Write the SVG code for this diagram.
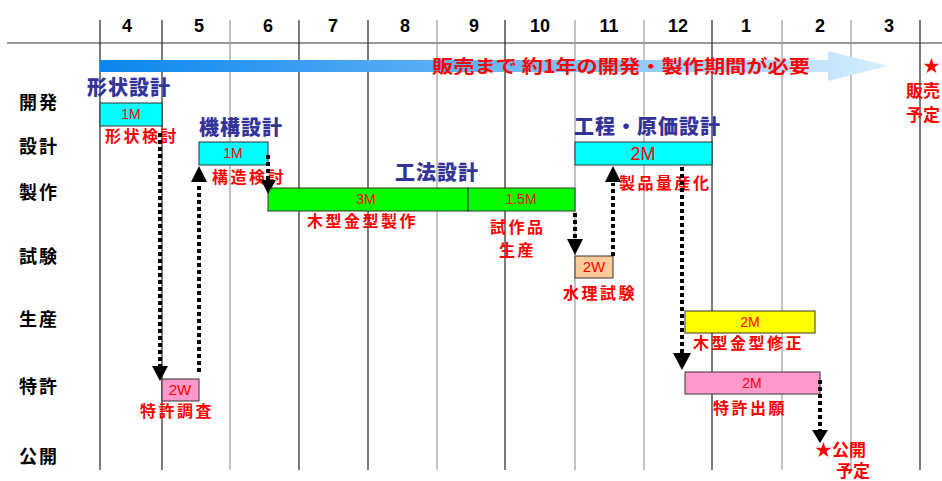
<svg xmlns="http://www.w3.org/2000/svg" width="942" height="481" viewBox="0 0 942 481">
<style>
.hdr{font-family:"Liberation Sans",Arial,sans-serif;font-weight:bold;font-size:18px;fill:#000;text-anchor:middle}
.row{font-family:"Noto Sans CJK JP","Liberation Sans",sans-serif;font-weight:bold;font-size:18px;letter-spacing:2px;fill:#000}
.ttl{font-family:"Noto Sans CJK JP","Liberation Sans",sans-serif;font-weight:900;font-size:20px;letter-spacing:1px;fill:#333399}
.lbl{font-family:"Noto Sans CJK JP","Liberation Sans",sans-serif;font-weight:bold;font-size:16px;letter-spacing:2.5px;fill:#ff0000}
.big{font-family:"Noto Sans CJK JP","Liberation Sans",sans-serif;font-weight:bold;font-size:18px;fill:#ff0000}
.sm{font-family:"Noto Sans CJK JP","Liberation Sans",sans-serif;font-weight:bold;font-size:17px;fill:#ff0000}
.bx{stroke:#333;stroke-width:1}
.bt{font-family:"Liberation Sans",Arial,sans-serif;font-size:14px;fill:#ff0000;text-anchor:middle}
.gd{stroke:#222;stroke-width:1.2}
.gl{stroke:#999;stroke-width:1.2}
.dot{stroke:#000;stroke-width:4;stroke-dasharray:4 3;fill:none}
.ah{fill:#000}
</style>
<defs>
<linearGradient id="bl" gradientUnits="userSpaceOnUse" x1="100" y1="0" x2="888" y2="0">
<stop offset="0" stop-color="#0a86ee"/>
<stop offset="0.45" stop-color="#5fb0f5"/>
<stop offset="1" stop-color="#d6eefd"/>
</linearGradient>
</defs>
<rect width="942" height="481" fill="#fff"/>
<g id="grid">
<line x1="7" y1="43" x2="942" y2="43" stroke="#333" stroke-width="1.2"/>
<line class="gd" x1="100" y1="20" x2="100" y2="470"/>
<line class="gd" x1="162" y1="20" x2="162" y2="470"/>
<line class="gl" x1="230" y1="20" x2="230" y2="470"/>
<line class="gd" x1="299" y1="20" x2="299" y2="470"/>
<line class="gd" x1="368" y1="20" x2="368" y2="470"/>
<line class="gl" x1="437" y1="20" x2="437" y2="470"/>
<line class="gd" x1="505" y1="20" x2="505" y2="470"/>
<line class="gl" x1="575" y1="20" x2="575" y2="470"/>
<line class="gl" x1="644" y1="20" x2="644" y2="470"/>
<line class="gd" x1="712" y1="20" x2="712" y2="470"/>
<line class="gl" x1="782" y1="20" x2="782" y2="470"/>
<line class="gl" x1="851" y1="20" x2="851" y2="470"/>
<line class="gd" x1="920" y1="20" x2="920" y2="470"/>
</g>
<g id="header">
<text class="hdr" x="127" y="32">4</text>
<text class="hdr" x="199" y="32">5</text>
<text class="hdr" x="268" y="32">6</text>
<text class="hdr" x="333" y="32">7</text>
<text class="hdr" x="405" y="32">8</text>
<text class="hdr" x="474" y="32">9</text>
<text class="hdr" x="540" y="32">10</text>
<text class="hdr" x="609" y="32">11</text>
<text class="hdr" x="678" y="32">12</text>
<text class="hdr" x="746" y="32">1</text>
<text class="hdr" x="820" y="32">2</text>
<text class="hdr" x="889" y="32">3</text>
</g>
<g id="rows">
<text class="row" x="19" y="109">開発</text>
<text class="row" x="19" y="153">設計</text>
<text class="row" x="19" y="199">製作</text>
<text class="row" x="19" y="263">試験</text>
<text class="row" x="19" y="326">生産</text>
<text class="row" x="19" y="393">特許</text>
<text class="row" x="19" y="463">公開</text>
</g>
<g id="banner">
<path d="M100,60 H828 V51 L888,66 L828,81 V72 H100 Z" fill="url(#bl)"/>
<text class="big" x="432" y="73" textLength="378" lengthAdjust="spacingAndGlyphs">販売まで  約1年の開発・製作期間が必要</text>
</g>
<g id="release">
<text class="sm" x="940" y="72" text-anchor="end">★</text>
<text class="sm" x="940" y="97" text-anchor="end">販売</text>
<text class="sm" x="940" y="121" text-anchor="end">予定</text>
</g>
<g id="n-keijou">
<text class="ttl" x="87" y="95">形状設計</text>
<rect class="bx" x="100" y="103" width="62" height="23" fill="#00ffff"/>
<text class="bt" x="131" y="119">1M</text>
<text class="lbl" x="105" y="142">形状検討</text>
</g>
<g id="n-kikou">
<text class="ttl" x="199" y="135">機構設計</text>
<rect class="bx" x="199" y="142" width="69" height="23" fill="#00ffff"/>
<text class="bt" x="233" y="158">1M</text>
<text class="lbl" x="212" y="183">構造検討</text>
</g>
<g id="n-kouhou">
<text class="ttl" x="395" y="180">工法設計</text>
<rect class="bx" x="268" y="188" width="200" height="23" fill="#00ff00"/>
<rect class="bx" x="468" y="188" width="107" height="23" fill="#00ff00"/>
<text class="bt" x="366" y="204">3M</text>
<text class="bt" x="521" y="204">1.5M</text>
<text class="lbl" x="307" y="227">木型金型製作</text>
<text class="lbl" x="490" y="233">試作品</text>
<text class="lbl" x="499" y="256">生産</text>
</g>
<g id="n-koutei">
<text class="ttl" x="574" y="134">工程・原価設計</text>
<rect class="bx" x="575" y="142" width="137" height="23" fill="#00ffff"/>
<text class="bt" x="643" y="160" style="font-size:18px">2M</text>
<text class="lbl" x="619" y="189">製品量産化</text>
</g>
<g id="n-suiri">
<rect class="bx" x="575" y="256" width="38" height="22" fill="#ffcc99"/>
<text class="bt" x="594" y="272" style="font-size:15px">2W</text>
<text class="lbl" x="563" y="299">水理試験</text>
</g>
<g id="n-shusei">
<rect class="bx" x="685" y="311" width="130" height="22" fill="#ffff00"/>
<text class="bt" x="750" y="327">2M</text>
<text class="lbl" x="693" y="349">木型金型修正</text>
</g>
<g id="n-shutsugan">
<rect class="bx" x="685" y="372" width="135" height="22" fill="#ff99cc"/>
<text class="bt" x="752" y="388">2M</text>
<text class="lbl" x="713" y="414">特許出願</text>
</g>
<g id="n-chousa">
<rect class="bx" x="162" y="379" width="37" height="22" fill="#ff99cc"/>
<text class="bt" x="180" y="395" style="font-size:15px">2W</text>
<text class="lbl" x="140" y="417">特許調査</text>
</g>
<g id="n-koukai">
<text class="sm" x="815" y="456">★公開</text>
<text class="sm" x="836" y="477">予定</text>
</g>
<g id="connectors">
<line class="dot" x1="160" y1="133" x2="160" y2="366"/>
<polygon class="ah" points="152,366 168,366 160,381"/>
<line class="dot" x1="199" y1="372" x2="199" y2="183"/>
<polygon class="ah" points="191,182 207,182 199,166"/>
<line class="dot" x1="268" y1="155" x2="268" y2="180"/>
<polygon class="ah" points="261,180 276,180 268,194"/>
<line class="dot" x1="575" y1="213" x2="575" y2="239"/>
<polygon class="ah" points="567,239 583,239 575,255"/>
<line class="dot" x1="613" y1="256" x2="613" y2="183"/>
<polygon class="ah" points="605,182 621,182 613,166"/>
<line class="dot" x1="682" y1="167" x2="682" y2="353"/>
<polygon class="ah" points="673,353 691,353 682,370"/>
<line class="dot" x1="820" y1="380" x2="820" y2="430"/>
<polygon class="ah" points="812,430 828,430 820,443"/>
</g>
</svg>
